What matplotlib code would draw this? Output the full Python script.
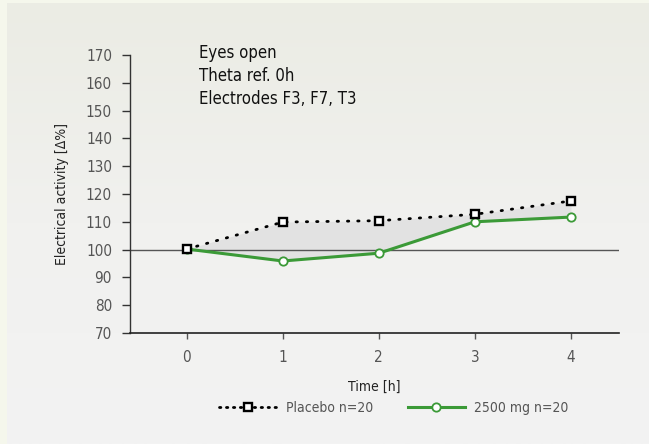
import numpy as np
import matplotlib
matplotlib.use("Agg")
import matplotlib.pyplot as plt
from matplotlib.lines import Line2D
from matplotlib.colors import LinearSegmentedColormap

time_h = [0, 1, 2, 3, 4]
placebo = [100.2, 109.9, 110.4, 112.7, 117.5]
dose_2500 = [100.2, 95.9, 98.7, 110.0, 111.7]
y_ticks = [70, 80, 90, 100, 110, 120, 130, 140, 150, 160, 170]
x_ticks = [0, 1, 2, 3, 4]
annotation_lines = ["Eyes open", "Theta ref. 0h", "Electrodes F3, F7, T3"]
legend_labels = ["Placebo n=20", "2500 mg n=20"]

plt.rcParams['font.family'] = ['DejaVu Sans']
plt.rcParams['font.stretch'] = 'condensed'

W, H = 649, 444
fig = plt.figure(figsize=(W / 100, H / 100), dpi=100, facecolor='#f5f7ec')

bg = fig.add_axes([7 / W, 0, 1 - 7 / W, 1 - 3 / H], zorder=-10)
cmap = LinearSegmentedColormap.from_list('bg', ['#ebece4', '#f1f1ef', '#f3f3f3'])
grad = np.linspace(0, 1, 256).reshape(-1, 1)
bg.imshow(grad, aspect='auto', cmap=cmap, extent=[0, 1, 0, 1], origin='upper')
bg.set_axis_off()

ax = fig.add_axes([130 / W, 1 - 333 / H, (619 - 130) / W, (333 - 55) / H])
ax.set_facecolor('none')
ax.set_xlim(-0.59, 4.5)
ax.set_ylim(70, 170)

ax.fill_between(time_h, placebo, dose_2500, color='#e2e2e2', zorder=1, linewidth=0)
ax.axhline(100, color='#555555', lw=1.0, zorder=2)

ax.plot(time_h, placebo, color='black', lw=2.0, linestyle=(0, (0.5, 3.2)),
        dash_capstyle='round', marker='s', ms=5.5, mfc='white', mec='black', mew=1.7, zorder=4)
ax.plot(time_h, dose_2500, color='#3b9a37', lw=2.2, marker='o', ms=6,
        mfc='white', mec='#3b9a37', mew=1.3, zorder=3)

for s in ['top', 'right']:
    ax.spines[s].set_visible(False)
ax.spines['left'].set_color('#333333')
ax.spines['bottom'].set_color('#222222')
ax.spines['left'].set_linewidth(1.0)
ax.spines['bottom'].set_linewidth(1.2)

ax.set_yticks(y_ticks)
ax.set_xticks(x_ticks)
ax.tick_params(axis='y', direction='out', length=6, width=1, color='#333333',
               labelsize=11, labelcolor='#555555', pad=7)
ax.tick_params(axis='x', direction='out', length=4, width=1, color='#555555',
               labelsize=11, labelcolor='#555555', pad=8)

ax.set_ylabel('Electrical activity [Δ%]', fontsize=10, color='#222222', labelpad=12)
ax.set_xlabel('Time [h]', fontsize=10, color='#222222', labelpad=11)

for i, t in enumerate(annotation_lines):
    fig.text(199 / W, 1 - (53 + i * 23) / H, t, fontsize=12, color='#111111',
             va='center', ha='left')

handles = [
    Line2D([0], [0], color='black', lw=2.0, linestyle=(0, (0.5, 2.0)), dash_capstyle='round',
           marker='s', ms=5.5, mfc='white', mec='black', mew=1.7),
    Line2D([0], [0], color='#3b9a37', lw=2.2, marker='o', ms=6, mfc='white',
           mec='#3b9a37', mew=1.3),
]
fig.legend(handles, legend_labels, loc='center', bbox_to_anchor=(394 / W, 1 - 408 / H),
           ncol=2, frameon=False, fontsize=10, handlelength=4.1, columnspacing=2.5,
           handletextpad=0.7, labelcolor='#555555')

fig.savefig('out.png', dpi=100, facecolor=fig.get_facecolor())
